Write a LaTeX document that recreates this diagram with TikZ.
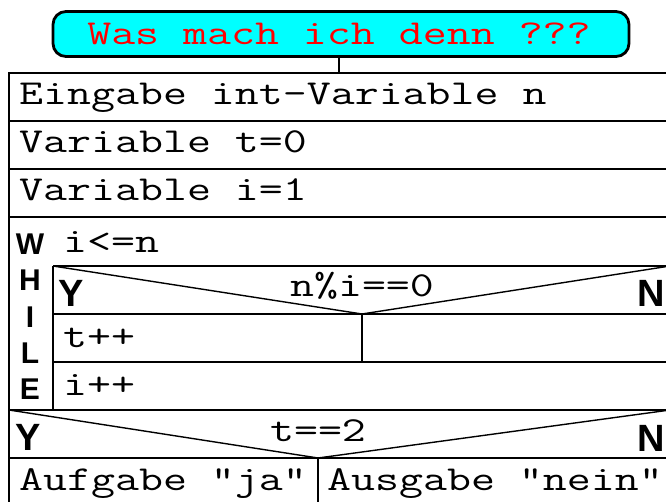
\documentclass[tikz,border=0pt]{standalone}
\usepackage{fontspec}
\setmonofont{Latin Modern Mono}[FakeStretch=1.33]
\setsansfont{Liberation Sans}
\definecolor{aqua}{RGB}{0,255,255}
\definecolor{titlered}{RGB}{255,0,0}
\tikzset{
  code/.style={font=\fontsize{35}{36}\selectfont\ttfamily, inner sep=0pt, anchor=base west},
  codec/.style={font=\fontsize{35}{36}\selectfont\ttfamily, inner sep=0pt, anchor=base},
  yn/.style={font=\fontsize{38}{38}\selectfont\sffamily\bfseries, inner sep=0pt},
  wl/.style={font=\fontsize{30}{30}\selectfont\sffamily\bfseries, inner sep=0pt, anchor=base},
  frame/.style={line width=1.4pt},
  titlebox/.style={draw, line width=2.8pt, fill=aqua, rounded corners=13pt, minimum width=576pt, minimum height=45pt, inner sep=0pt},
}
\begin{document}
\begin{tikzpicture}[x=1pt,y=-1pt]
\useasboundingbox (0,0) rectangle (666,502);
\clip (0,0) rectangle (666,502);
% title
\node[titlebox] (title) at (341,34) {};
\node[codec, text=titlered] (titletext) at (339,45) {Was mach ich denn ???};
\coordinate (top) at (339,73);
\draw[frame] (title.south -| top) -- (top);
% frame
\draw[frame] (9,73) rectangle (670,530);
\foreach \y in {121,169,217,410,458} \draw[frame] (9,\y) -- (670,\y);
% while inner
\draw[frame] (53,266) -- (53,410);
\foreach \y in {266,314,362} \draw[frame] (53,\y) -- (670,\y);
% inner decision
\coordinate (iv) at (362,314);
\draw[frame] (53,266) -- (iv) -- (670,266);
\draw[frame] (iv) -- (362,362);
% outer decision
\coordinate (ov) at (318,458);
\draw[frame] (9,410) -- (ov) -- (670,410);
\draw[frame] (ov) -- (318,530);
% texts
\node[code] (t1) at (19,105) {Eingabe int-Variable n};
\node[code] (t2) at (19,153) {Variable t=0};
\node[code] (t3) at (19,201) {Variable i=1};
\node[code] (w) at (63,253) {i<=n};
\node[codec] (c1) at (362,297) {n\%i==0};
\node[code] (t4) at (63,347) {t++};
\node[code] (t5) at (63,395) {i++};
\node[codec] (c2) at (318,441) {t==2};
\node[code] (t6) at (19,490) {Aufgabe "ja"};
\node[code] (t7) at (327,490) {Ausgabe "nein"};
% Y/N
\node[yn, anchor=base west] (y1) at (58,306) {Y};
\node[yn, anchor=base east] (n1) at (665,307) {N};
\node[yn, anchor=base west] (y2) at (15,450) {Y};
\node[yn, anchor=base east] (n2) at (665,451) {N};
% WHILE
\node[wl] (lw) at (30,255) {W};
\node[wl] (lh) at (30,291) {H};
\node[wl] (li) at (30,327) {I};
\node[wl] (ll) at (30,363) {L};
\node[wl] (le) at (30,399) {E};
\end{tikzpicture}
\end{document}
